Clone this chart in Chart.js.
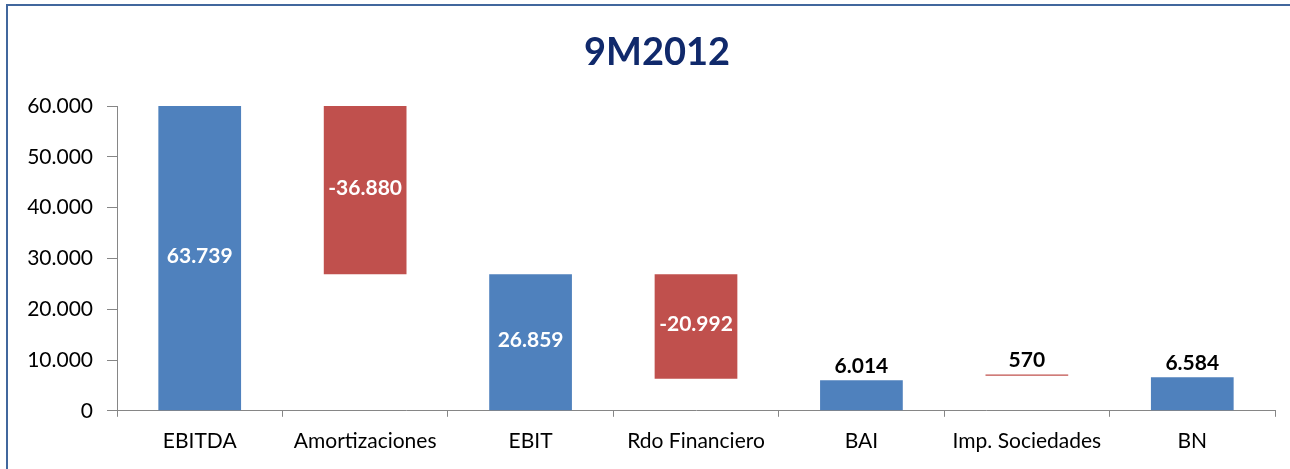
<!DOCTYPE html>
<html>
<head>
<meta charset="utf-8">
<script src="https://cdn.jsdelivr.net/npm/chart.js@4"></script>
<style>
  html, body { margin: 0; padding: 0; background: #fff; overflow: hidden; }
  #frame {
    position: absolute; left: 6px; top: 4px;
    width: 1400px; height: 600px;
    border: 2px solid #41679d;
  }
  #chart { position: absolute; left: 0; top: 0; }
</style>
</head>
<body>
<div id="frame"></div>
<canvas id="chart" width="1290" height="469"></canvas>
<script>
// Data
const categories = ['EBITDA', 'Amortizaciones', 'EBIT', 'Rdo Financiero', 'BAI', 'Imp. Sociedades', 'BN'];
const amounts = [63739, -36880, 26859, -20992, 6014, 570, 6584];
const barLow = [0, 26859, 0, 6300, 0, 6880, 0];
const barHigh = [63739, 63739, 26859, 26859, 6014, 7150, 6584];
const yTicks = [0, 10000, 20000, 30000, 40000, 50000, 60000];
const chartTitle = '9M2012';

const BLUE = '#4F81BD';
const RED = '#C0504D';
const AXIS = '#868686';

Chart.defaults.font.family = 'Lato';

// 63739 -> "63.739"
function fmt(n) {
  const s = String(Math.abs(n)).replace(/\B(?=(\d{3})+(?!\d))/g, '.');
  return n < 0 ? '-' + s : s;
}

// Title centred on the outer frame rather than the canvas
const frameTitle = {
  id: 'frameTitle',
  afterDraw(chart) {
    const ctx = chart.ctx;
    ctx.save();
    ctx.font = 'bold 38px Lato';
    ctx.fillStyle = '#10296b';
    ctx.textAlign = 'center';
    ctx.textBaseline = 'middle';
    ctx.fillText(chartTitle, 657, 53);
    ctx.restore();
  }
};

// Value labels: white inside tall bars, black above short ones
const valueLabels = {
  id: 'valueLabels',
  afterDatasetsDraw(chart) {
    const ctx = chart.ctx;
    const area = chart.chartArea;
    const meta = chart.getDatasetMeta(0);
    ctx.save();
    ctx.font = 'bold 21px Lato';
    ctx.textAlign = 'center';
    meta.data.forEach((bar, i) => {
      const top = Math.max(Math.min(bar.y, bar.base), area.top);
      const bottom = Math.min(Math.max(bar.y, bar.base), area.bottom);
      if (bottom - top > 40) {
        ctx.fillStyle = '#fff';
        ctx.textBaseline = 'middle';
        ctx.fillText(fmt(amounts[i]), bar.x, (top + bottom) / 2 - 2);
      } else {
        ctx.fillStyle = '#000';
        ctx.textBaseline = 'bottom';
        ctx.fillText(fmt(amounts[i]), bar.x, top - 4);
      }
    });
    ctx.restore();
  }
};

new Chart(document.getElementById('chart'), {
  type: 'bar',
  data: {
    labels: categories,
    datasets: [{
      data: categories.map((_, i) => [barLow[i], barHigh[i]]),
      backgroundColor: categories.map((_, i) => barLow[i] === 0 ? BLUE : RED),
      barPercentage: 0.5,
      categoryPercentage: 1
    }]
  },
  options: {
    responsive: false,
    animation: false,
    layout: { padding: { left: 0, right: 15, top: 106, bottom: 3 } },
    plugins: {
      legend: { display: false },
      tooltip: { enabled: false },
      title: { display: false }
    },
    scales: {
      x: {
        grid: { display: true, drawOnChartArea: false, offset: true, tickLength: 6, color: AXIS },
        border: { color: AXIS, width: 1 },
        ticks: { color: '#000', font: { size: 21 }, padding: 12, maxRotation: 0 }
      },
      y: {
        min: 0,
        max: 60000,
        afterBuildTicks: (scale) => { scale.ticks = yTicks.map(v => ({ value: v })); },
        afterFit: (scale) => { scale.width = 117; },
        ticks: { color: '#000', font: { size: 21 }, padding: 14, callback: (v) => fmt(v) },
        grid: { drawOnChartArea: false, tickLength: 10, color: AXIS },
        border: { color: AXIS, width: 1 }
      }
    }
  },
  plugins: [valueLabels, frameTitle]
});
</script>
</body>
</html>
